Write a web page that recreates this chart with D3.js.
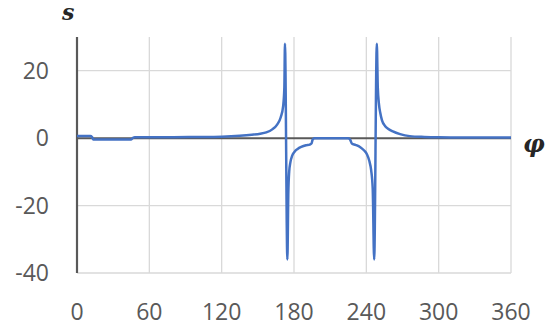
<!DOCTYPE html>
<html>
<head>
<meta charset="utf-8">
<script src="https://cdn.jsdelivr.net/npm/d3@7"></script>
<style>
  body { margin: 0; background: #fff; }
</style>
</head>
<body>
<div id="chart"></div>
<script>
var width = 550;
var height = 330;

// curve
var phi = [0, 11, 12.5, 13.5, 45, 46.5, 48, 60, 80, 100, 120, 135, 145, 152, 157, 162, 166, 169, 171, 172, 172.5,
           174.5, 175.3, 176, 177, 178.5, 180.5, 183, 186, 190, 193, 194.5, 195.5, 197,
           225, 226.5, 228, 231, 235, 238, 240.5, 242.5, 244, 245.3, 246.5,
           248.7, 249.5, 250.5, 251.5, 253, 255.5, 258, 262, 268, 276, 288, 300, 330, 360];
var sVal = [0.6, 0.6, 0.3, -0.4, -0.4, 0.1, 0.3, 0.3, 0.3, 0.35, 0.45, 0.7, 1.0, 1.3, 1.7, 2.6, 4.0, 6.2, 9.5, 15, 28,
            -36, -16, -10, -7.2, -5.2, -4.0, -3.2, -2.6, -2.1, -1.9, -1.6, -0.4, 0,
            0, -0.4, -1.6, -2.0, -2.7, -3.6, -4.8, -6.8, -9.5, -15, -36,
            28, 15, 10, 7.6, 5.3, 3.6, 2.8, 2.0, 1.2, 0.6, 0.35, 0.25, 0.2, 0.2];

var xTicks = [0, 60, 120, 180, 240, 300, 360];
var yTicks = [-40, -20, 0, 20];

var svg = d3.select('#chart').append('svg')
    .attr('width', width)
    .attr('height', height);

var x = d3.scaleLinear().domain([0, 360]).range([77, 511]);
var y = d3.scaleLinear().domain([-40, 30]).range([273, 37]);

// grid
svg.selectAll('.vgrid').data(xTicks.slice(1)).enter().append('line')
    .attr('x1', function(d) { return x(d); })
    .attr('x2', function(d) { return x(d); })
    .attr('y1', y(30)).attr('y2', y(-40))
    .attr('stroke', '#d9d9d9').attr('stroke-width', 1.3);

svg.selectAll('.hgrid').data([-40, -20, 20]).enter().append('line')
    .attr('x1', x(0)).attr('x2', x(360))
    .attr('y1', function(d) { return y(d); })
    .attr('y2', function(d) { return y(d); })
    .attr('stroke', '#d9d9d9').attr('stroke-width', 1.3);

// axes
svg.append('line')
    .attr('x1', x(0)).attr('x2', x(360))
    .attr('y1', y(0)).attr('y2', y(0))
    .attr('stroke', '#595959').attr('stroke-width', 2);

svg.append('line')
    .attr('x1', x(0)).attr('x2', x(0))
    .attr('y1', y(30)).attr('y2', y(-40))
    .attr('stroke', '#595959').attr('stroke-width', 2.2);

// tick labels
svg.selectAll('.ylab').data(yTicks).enter().append('text')
    .attr('x', 49)
    .attr('y', function(d) { return y(d) + 8; })
    .attr('text-anchor', 'end')
    .style('font-family', 'Open Sans')
    .style('font-size', '23px')
    .style('fill', '#595959')
    .text(function(d) { return d; });

svg.selectAll('.xlab').data(xTicks).enter().append('text')
    .attr('x', function(d) { return x(d); })
    .attr('y', 320)
    .attr('text-anchor', 'middle')
    .style('font-family', 'Open Sans')
    .style('font-size', '23px')
    .style('fill', '#595959')
    .text(function(d) { return d; });

// axis names
svg.append('text')
    .attr('x', 62).attr('y', 20)
    .style('font-family', 'DejaVu Serif')
    .style('font-style', 'italic').style('font-weight', 'bold')
    .style('font-size', '22px').style('fill', '#262626')
    .text('s');

svg.append('text')
    .attr('x', 523).attr('y', 152)
    .style('font-family', 'DejaVu Serif')
    .style('font-style', 'italic').style('font-weight', 'bold')
    .style('font-size', '24px').style('fill', '#262626')
    .text('\u03c6');

// series
var pts = phi.map(function(p, i) { return [p, sVal[i]]; });
var line = d3.line()
    .x(function(d) { return x(d[0]); })
    .y(function(d) { return y(d[1]); })
    .curve(d3.curveMonotoneX);

svg.append('path')
    .datum(pts)
    .attr('d', line)
    .attr('fill', 'none')
    .attr('stroke', '#4472c4')
    .attr('stroke-width', 2.5)
    .attr('stroke-linejoin', 'round');
</script>
</body>
</html>
